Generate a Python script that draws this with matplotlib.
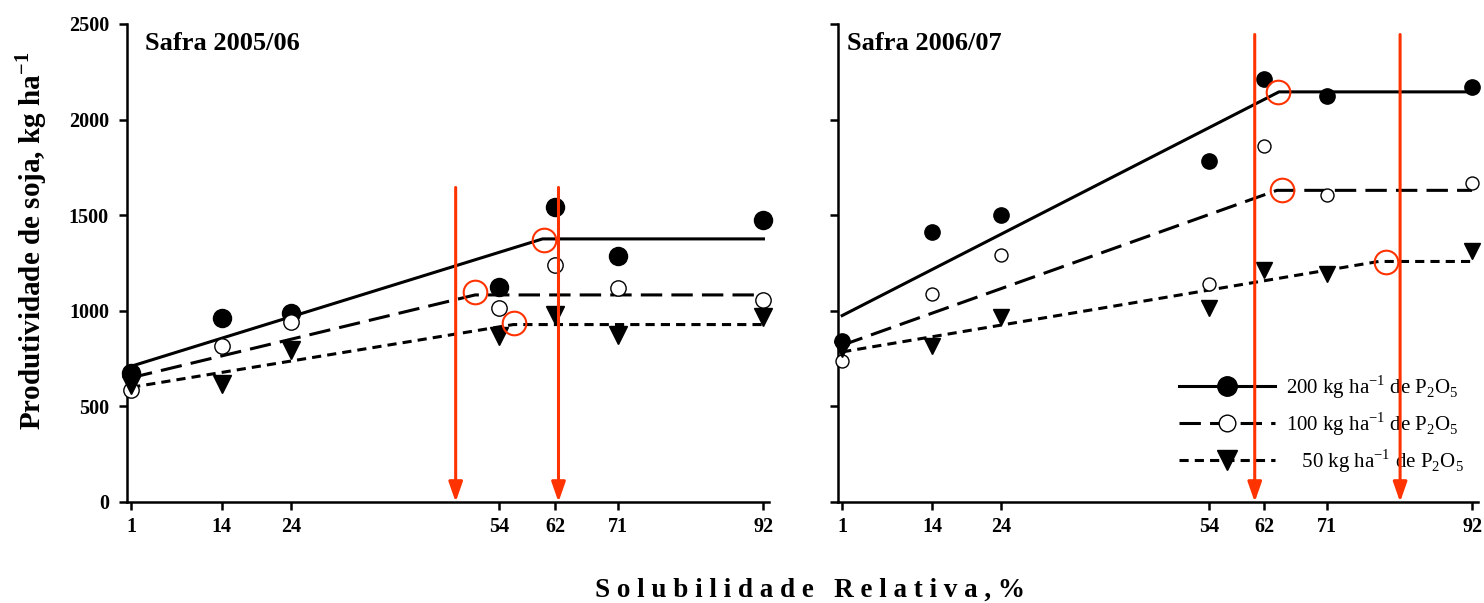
import matplotlib
matplotlib.use('Agg')
import matplotlib.pyplot as plt
from matplotlib.lines import Line2D

plt.rcParams['font.family'] = ['Liberation Serif', 'DejaVu Serif']
plt.rcParams['mathtext.fontset'] = 'custom'
plt.rcParams['mathtext.rm'] = 'Liberation Serif'
plt.rcParams['mathtext.bf'] = 'Liberation Serif:bold'

# solubilidade relativa (%)
sol = [1, 14, 24, 54, 62, 71, 92]
xticks = [1, 14, 24, 54, 62, 71, 92]

# Safra 2005/06 - produtividade observada (kg/ha)
y05_200 = [675, 960, 990, 1125, 1545, 1285, 1475]
y05_100 = [585, 815, 940, 1015, 1240, 1120, 1055]
y05_50 = [610, 618, 793, 866, 976, 871, 967]
# modelos linear-platô (x, y)
fit05_200_x = [1, 60.2, 92]
fit05_200_y = [710, 1376, 1376]
fit05_100_x = [1, 50.5, 92]
fit05_100_y = [650, 1083, 1083]
fit05_50_x = [1, 56.0, 92]
fit05_50_y = [600, 928, 928]
# pontos de máxima eficiência (círculos vermelhos)
circ05_x = [60.4, 50.5, 56.1]
circ05_y = [1371, 1097, 937]
# setas
arrow05_x = [47.7, 62.5]
arrow05_top = 1645

# Safra 2006/07
y06_200 = [840, 1410, 1500, 1785, 2210, 2125, 2170]
y06_100 = [740, 1090, 1290, 1140, 1860, 1605, 1670]
y06_50 = [800, 815, 970, 1015, 1215, 1190, 1315]
fit06_200_x = [1, 64.1, 92]
fit06_200_y = [975, 2145, 2145]
fit06_100_x = [1, 63.8, 92]
fit06_100_y = [820, 1630, 1630]
fit06_50_x = [1, 78.5, 92]
fit06_50_y = [785, 1258, 1258]
circ06_x = [64.0, 64.6, 79.6]
circ06_y = [2145, 1630, 1253]
arrow06_x = [60.6, 81.6]
arrow06_top = 2445

labels = [r'200 kg ha$^{-1}$ de P$_2$O$_5$',
          r'100 kg ha$^{-1}$ de P$_2$O$_5$',
          r'   50 kg ha$^{-1}$ de P$_2$O$_5$']

red = '#FF3300'
dash_long = (0, (7, 3))
dash_short = (0, (3, 2))


def draw_panel(ax, ys, fits, circ_x, circ_y, arrow_x, arrow_top, title, ms, tx):
    y200, y100, y50 = ys
    (f2x, f2y), (f1x, f1y), (f5x, f5y) = fits
    ax.plot(f2x, f2y, color='black', lw=2.2, ls='-', zorder=2)
    ax.plot(f1x, f1y, color='black', lw=2.2, ls=dash_long, zorder=2)
    ax.plot(f5x, f5y, color='black', lw=2.2, ls=dash_short, zorder=2)
    ax.plot(sol, y200, 'o', color='black', ms=ms, zorder=3, clip_on=False)
    ax.plot(sol, y100, 'o', mfc='white', mec='black', mew=1.0, ms=ms * 0.85, zorder=3, clip_on=False)
    ax.plot(sol, y50, 'v', color='black', ms=ms, zorder=3, clip_on=False)
    ax.plot(circ_x, circ_y, 'o', mfc='none', mec=red, mew=1.5, ms=17, zorder=4)
    for xa in arrow_x:
        ax.annotate('', xy=(xa, 0), xytext=(xa, arrow_top),
                    arrowprops=dict(arrowstyle='-|>,head_length=1.2,head_width=0.42',
                                    color=red, lw=2.2, shrinkA=0, shrinkB=0),
                    zorder=10, annotation_clip=False)
    ax.set_xlim(0.4, 92.8)
    ax.set_ylim(0, 2500)
    ax.set_xticks(xticks)
    ax.set_yticks([0, 500, 1000, 1500, 2000, 2500])
    for s in ['top', 'right']:
        ax.spines[s].set_visible(False)
    for s in ['left', 'bottom']:
        ax.spines[s].set_linewidth(1.8)
    ax.tick_params(direction='out', length=6, width=1.8, labelsize=14.5)
    ax.tick_params(axis='x', pad=5)
    ax.tick_params(axis='y', pad=7)
    for lab in ax.get_xticklabels() + ax.get_yticklabels():
        lab.set_fontweight('bold')
    ax.text(tx, 0.96, title, transform=ax.transAxes, fontsize=19,
            fontweight='bold', va='center', ha='left')


fig = plt.figure(figsize=(14.84, 6.03), dpi=100)
ax1 = fig.add_axes([0.0856, 0.1675, 0.4326, 0.7927])
ax2 = fig.add_axes([0.5647, 0.1675, 0.4310, 0.7927])

draw_panel(ax1, (y05_200, y05_100, y05_50),
           ((fit05_200_x, fit05_200_y), (fit05_100_x, fit05_100_y), (fit05_50_x, fit05_50_y)),
           circ05_x, circ05_y, arrow05_x, arrow05_top, 'Safra 2005/06', 13, 0.028)
draw_panel(ax2, (y06_200, y06_100, y06_50),
           ((fit06_200_x, fit06_200_y), (fit06_100_x, fit06_100_y), (fit06_50_x, fit06_50_y)),
           circ06_x, circ06_y, arrow06_x, arrow06_top, 'Safra 2006/07', 11, 0.014)
ax2.tick_params(labelleft=False)

handles = [
    Line2D([], [], color='black', lw=2.2, ls='-', marker='o', ms=14),
    Line2D([], [], color='black', lw=2.2, ls=dash_long, marker='o', mfc='white', mew=1.0, ms=12),
    Line2D([], [], color='black', lw=2.2, ls=dash_short, marker='v', ms=14),
]
ax2.legend(handles, labels, loc='lower left', bbox_to_anchor=(0.52, 0.04),
           frameon=False, fontsize=15, handlelength=4.6, handletextpad=0.55,
           labelspacing=0.45, markerfirst=True, borderaxespad=0)

fig.text(0.021, 0.60, r'Produtividade de soja, kg ha$^{\mathbf{-1}}$', rotation=90,
         fontsize=21, fontweight='bold', ha='center', va='center')
fig.text(0.546, 0.022, 'S o l u b i l i d a d e   R e l a t i v a , %',
         fontsize=19.5, fontweight='bold', ha='center', va='center')

fig.savefig('out.png', dpi=100)
